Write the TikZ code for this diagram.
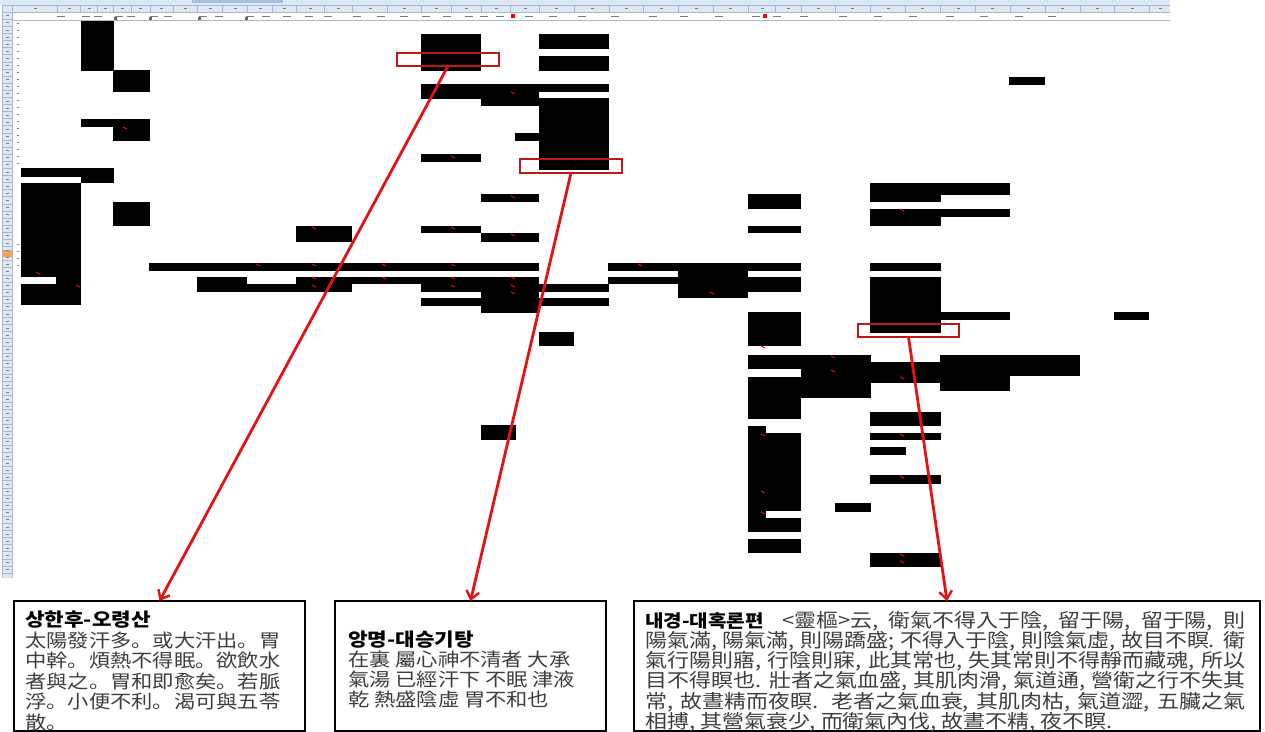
\documentclass[tikz,border=0pt]{standalone}
\usepackage{fontspec}
\usetikzlibrary{arrows.meta}
\newfontfamily\krfont[FakeStretch=1.15]{Noto Sans CJK KR}
\definecolor{arrred}{RGB}{228,18,18}
\definecolor{frmred}{RGB}{190,25,25}
\definecolor{hdrbg}{RGB}{222,232,244}
\definecolor{hdrln}{RGB}{165,185,212}
\definecolor{tabblue}{RGB}{165,192,226}
\definecolor{bodytxt}{RGB}{62,62,62}
\definecolor{hdrtxt}{RGB}{125,125,125}
\begin{document}
\begin{tikzpicture}[x=1pt,y=-1pt,
  blk/.style={fill=black},
  rframe/.style={draw=frmred,line width=2.9pt,inner sep=0pt,outer sep=0pt},
  arr/.style={draw=arrred,line width=2.8pt,-{Straight Barb[length=8pt,width=13pt,line width=2.4pt]}},
  tbox/.style={draw=black,line width=2.4pt,inner sep=0pt,outer sep=0pt,fill=white},
  lnA/.style={anchor=base west,inner sep=0pt,font=\krfont\fontsize{18.5}{21}\selectfont,text=bodytxt},
  lnB/.style={anchor=base west,inner sep=0pt,font=\krfont\fontsize{19.1}{21}\selectfont,text=bodytxt},
  redmk/.style={draw=red,line width=0.9pt},
  hdrmk/.style={draw=hdrtxt,line width=0.7pt}
]
\useasboundingbox (0,0) rectangle (1265,731);
\fill[white] (0,0) rectangle (1265,731);

% ---------- spreadsheet chrome ----------
\fill[hdrbg] (0,0) rectangle (1170,4.5);
\fill[tabblue] (192,0) rectangle (283,3);
\fill[hdrbg] (2,5.5) rectangle (1170,12);
\draw[hdrln,line width=0.4pt] (2,5.5) -- (1170,5.5) (2,12) -- (1170,12) (2,20) -- (1170,20);
\foreach \x in {12,57,80,97,113,131,150,173,197,222,247,272,296,324,352,387,421,451,481,510,539,574,609,643,678,713,748,775,801,835,870,905,940,975,1010,1045,1080,1114,1149}
  \draw[hdrln,line width=0.4pt] (\x,5.5) -- (\x,12);
\foreach \x in {35,69,89,105,122,140,161,185,210,235,260,284,310,338,370,404,436,466,496,525,556,592,626,661,696,730,762,788,818,852,888,922,958,992,1028,1062,1097,1132,1160}
  \draw[hdrmk,line width=0.5pt] (\x-1.5,8.7) -- (\x+1.5,8.7);
\foreach \x in {61,86,98,119,131,154,168,203,219,250,266,287,309,328,357,381,404,426,447,469,484,500,529,553,582,615,653,684,719,756,777,804,843,878,913,950,984,1019,1052}
  \draw[hdrmk] (\x-4,16) -- (\x+4,16);
\foreach \x in {119,154,203,250}
  \fill[black!60] (\x-5,17.3) rectangle (\x-2.5,19.5);
\fill[red] (511,14) rectangle (515,18);
\fill[red] (763,14) rectangle (767,18);
% row header
\fill[hdrbg] (2,12) rectangle (12,578);
\fill[orange!75] (2,250.4) rectangle (12,256.8);
\draw[hdrln,line width=0.5pt] (12,5.5) -- (12,578) (2,5.5) -- (2,578);
\foreach \i in {0,...,79}
  \draw[hdrln,line width=0.3pt] (2,12+7.1*\i) -- (12,12+7.1*\i);
\foreach \i in {0,...,78}
  \draw[hdrtxt,line width=0.6pt] (5.5,15.6+7.1*\i) -- (8.5,15.6+7.1*\i);
\foreach \y in {23,30,37,44,51,58,65,72,79,86,93,100,107,114,121,128,135,142,149,156,163,244,251,258,265}
  \draw[hdrtxt,line width=0.6pt] (16.5,\y) -- (18.5,\y);

% ---------- black cell blocks ----------
\foreach \a/\b/\c/\d in {
  81/21/114/71, 113/70/150/92, 81/119/150/127, 113/119/150/141,
  21/168/114/177, 81/168/114/183, 21/183/81/277, 56/277/81/284, 21/284/81/305,
  113/202/150/226, 296/226/352/242,
  421/34/481/71, 539/34/609/49, 539/56/609/71,
  421/84/609/92, 421/84/481/99, 481/84/539/106, 539/98/609/170, 515/133/539/141,
  421/154/481/162, 481/194/539/202, 421/226/481/233, 481/233/539/242,
  149/263/539/271, 608/263/801/271,
  197/277/247/292, 247/284/296/292, 296/277/421/284, 296/277/352/292,
  421/277/481/292, 481/277/539/313, 539/284/609/292, 608/277/678/284,
  678/263/748/298, 748/277/801/292, 421/298/481/306, 539/298/609/306,
  539/332/574/346, 481/425/516/440,
  748/194/801/209, 748/226/801/233,
  870/183/1010/195, 870/183/941/202, 870/209/1010/217, 870/209/941/226,
  870/263/941/271, 870/277/941/333, 941/312/1010/320, 1114/312/1149/320,
  1009/77/1045/85,
  748/312/801/346, 748/355/801/369, 748/377/801/419,
  801/355/871/398, 871/362/940/383, 940/355/1080/376, 940/355/1010/391,
  870/412/941/426, 870/433/941/440, 870/447/906/455, 870/475/941/484,
  835/503/871/512, 870/553/941/567,
  748/426/766/532, 766/433/801/511, 766/518/801/532, 748/539/801/553}
  \fill[blk] (\a,\b) rectangle (\c,\d);

% ---------- small red comment marks ----------
\foreach \x/\y in {125/128, 38/273, 78/286, 258/265, 314/228, 314/265, 314/278, 314/286,
  513/93, 453/157, 513/197, 453/228, 513/235, 384/265, 453/265, 384/278,
  453/278, 453/286, 513/278, 513/286, 513/293,
  640/265, 712/293, 902/210, 763/347, 833/357, 833/371, 902/378,
  763/435, 902/435, 902/477, 763/492, 763/513, 902/555, 902/562}
  \draw[redmk] (\x-2,\y-1) -- (\x+2,\y+1);

% ---------- red frames ----------
\node[rframe,minimum width=102pt,minimum height=13pt] (r1) at (448,59.5) {};
\node[rframe,minimum width=102pt,minimum height=14pt] (r2) at (571,166) {};
\node[rframe,minimum width=101pt,minimum height=13pt] (r3) at (908.5,330.5) {};

% ---------- text boxes ----------
\node[tbox,minimum width=291pt,minimum height=130pt] (b1) at (159.5,666) {};
\node[tbox,minimum width=271pt,minimum height=130pt] (b2) at (470.5,666) {};
\node[tbox,minimum width=626pt,minimum height=130pt] (b3) at (947,666) {};

% box 1
\node[lnA,text=black] (t1a) at (25,626.7) {\bfseries 상한후-오령산};
\node[lnA] (t1b) at (25,647.2) {太陽發汗多。或大汗出。胃};
\node[lnA] (t1c) at (25,667.7) {中幹。煩熱不得眠。欲飲水};
\node[lnA] (t1d) at (25,688.2) {者與之。胃和即愈矣。若脈};
\node[lnA] (t1e) at (25,708.7) {浮。小便不利。渴可與五苓};
\node[lnA] (t1f) at (25,729.2) {散。};

% box 2
\node[lnA,text=black] (t2a) at (348,646.7) {\bfseries 앙명-대승기탕};
\node[lnA] (t2b) at (348,666.5) {在裏 屬心神不清者 大承};
\node[lnA] (t2c) at (348,686.3) {氣湯 已經汗下 不眠 津液};
\node[lnA] (t2d) at (348,706.1) {乾 熱盛陰虛 胃不和也};

% box 3
\node[lnB] (t3a) at (645,627) {\makebox[600pt][s]{{\color{black}\bfseries\fontsize{17.5}{21}\selectfont 내경-대혹론편}\ \ <靈樞>云, 衛氣不得入于陰, 留于陽, 留于陽, 則}};
\node[lnB] (t3b) at (645,647.3) {\makebox[600pt][s]{陽氣滿, 陽氣滿, 則陽蹻盛; 不得入于陰, 則陰氣虛, 故目不瞑. 衛}};
\node[lnB] (t3c) at (645,667.6) {\makebox[600pt][s]{氣行陽則寤, 行陰則寐, 此其常也, 失其常則不得靜而藏魂, 所以}};
\node[lnB] (t3d) at (645,687.9) {\makebox[600pt][s]{目不得瞑也. 壯者之氣血盛, 其肌肉滑, 氣道通, 營衛之行不失其}};
\node[lnB] (t3e) at (645,708.2) {\makebox[600pt][s]{常, 故晝精而夜瞑. 老者之氣血衰, 其肌肉枯, 氣道澀, 五臟之氣}};
\node[lnB] (t3f) at (645,728.5) {相搏, 其營氣衰少, 而衛氣內伐, 故晝不精, 夜不瞑.};

% ---------- arrows ----------
\draw[arr] (r1.south) -- (b1.north);
\draw[arr] (r2.south) -- (b2.north);
\draw[arr] (r3.south) -- (b3.north);
\end{tikzpicture}
\end{document}
